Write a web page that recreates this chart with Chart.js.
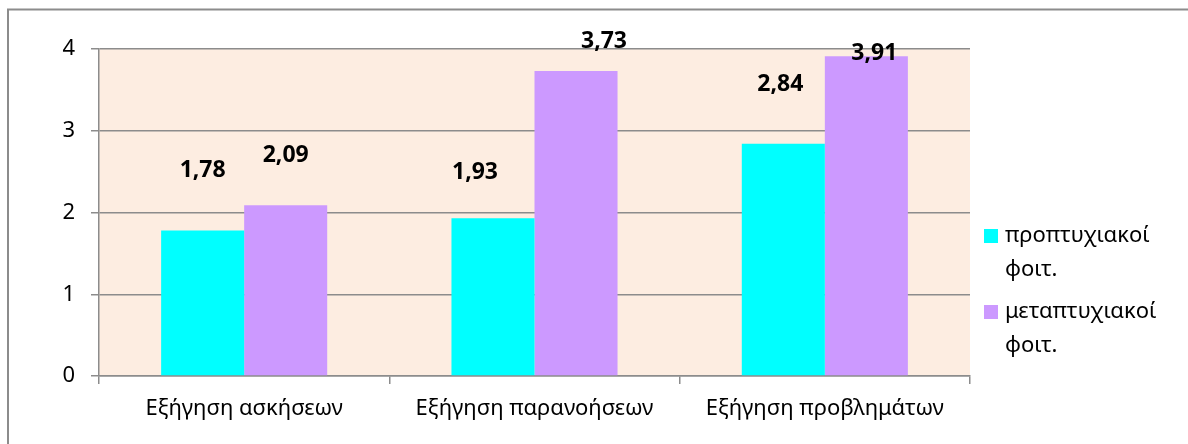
<!DOCTYPE html>
<html>
<head>
<meta charset="utf-8">
<script src="https://cdn.jsdelivr.net/npm/chart.js@4.4.0/dist/chart.umd.min.js"></script>
<style>
  html, body { margin: 0; padding: 0; background: #ffffff; overflow: hidden; }
  canvas { display: block; }
</style>
</head>
<body>
<canvas id="chart" width="1188" height="444"></canvas>
<script>
// Categories, series values and axis ticks
const categories = ['Εξήγηση ασκήσεων', 'Εξήγηση παρανοήσεων', 'Εξήγηση προβλημάτων'];
const undergradValues = [1.78, 1.93, 2.84];
const postgradValues = [2.09, 3.73, 3.91];
const seriesLabels = ['προπτυχιακοί φοιτ.', 'μεταπτυχιακοί φοιτ.'];
const yTickValues = [0, 1, 2, 3, 4];

const FONT = "'Noto Sans', 'Open Sans', sans-serif";
const GRID = '#8c8c8c';

const fmt = v => v.toFixed(2).replace('.', ',');

// Frame, plot background and the wrapped legend on the right
const framePlugin = {
  id: 'frame',
  beforeDraw(chart) {
    const { ctx, chartArea: a } = chart;
    ctx.save();
    ctx.fillStyle = '#fdede1';
    ctx.fillRect(a.left, a.top, a.right - a.left, a.bottom - a.top);
    ctx.strokeStyle = '#8c8c8c';
    ctx.lineWidth = 2;
    ctx.beginPath();
    ctx.moveTo(8, chart.height + 2);
    ctx.lineTo(8, 9.5);
    ctx.lineTo(chart.width + 2, 9.5);
    ctx.stroke();
    ctx.restore();
  },
  afterDraw(chart) {
    const { ctx } = chart;
    ctx.save();
    ctx.font = `22px ${FONT}`;
    ctx.textBaseline = 'middle';
    let y = 236;
    chart.data.datasets.forEach(ds => {
      const lines = ds.label.split(' ');
      ctx.fillStyle = ds.backgroundColor;
      ctx.fillRect(984, y - 7, 14, 14);
      ctx.fillStyle = '#000';
      lines.forEach((ln, i) => ctx.fillText(ln, 1005, y + i * 33.5));
      y += 76;
    });
    ctx.restore();
  }
};

// Value labels above the bars
const valueLabelPlugin = {
  id: 'valueLabels',
  afterDatasetsDraw(chart, args, opts) {
    const { ctx } = chart;
    ctx.save();
    ctx.font = `bold 23px ${FONT}`;
    ctx.textAlign = 'center';
    ctx.textBaseline = 'middle';
    ctx.fillStyle = '#000';
    chart.data.datasets.forEach((ds, di) => {
      const meta = chart.getDatasetMeta(di);
      meta.data.forEach((bar, i) => {
        const [dx, dy] = opts.offsets[di][i];
        ctx.fillText(fmt(ds.data[i]), bar.x + dx, bar.y + dy);
      });
    });
    ctx.restore();
  }
};

new Chart(document.getElementById('chart'), {
  type: 'bar',
  data: {
    labels: categories,
    datasets: [
      { label: seriesLabels[0], data: undergradValues, backgroundColor: '#00ffff' },
      { label: seriesLabels[1], data: postgradValues, backgroundColor: '#cc99ff' }
    ]
  },
  plugins: [framePlugin, valueLabelPlugin],
  options: {
    responsive: false,
    animation: false,
    events: [],
    layout: { padding: { top: 49, right: 218, bottom: 0, left: 0 } },
    datasets: { bar: { categoryPercentage: 0.572, barPercentage: 1.0 } },
    plugins: {
      legend: { display: false },
      tooltip: { enabled: false },
      valueLabels: {
        offsets: [
          [[0, -60], [-18, -46], [-3, -59]],
          [[0, -50], [28, -30], [8, -3]]
        ]
      }
    },
    scales: {
      x: {
        grid: { offset: true, drawOnChartArea: false, drawTicks: true, tickLength: 8, color: GRID, lineWidth: 1.5 },
        border: { color: GRID, width: 1.5 },
        ticks: { color: '#000', font: { family: FONT, size: 22 }, padding: 12, maxRotation: 0 },
        afterFit(scale) { scale.height = 68; }
      },
      y: {
        min: 0,
        max: 4,
        afterBuildTicks(scale) { scale.ticks = yTickValues.map(v => ({ value: v })); },
        grid: { color: GRID, lineWidth: 1.5, tickLength: 8 },
        border: { color: GRID, width: 1.5 },
        ticks: { color: '#000', font: { family: FONT, size: 22 }, padding: 16 },
        afterFit(scale) { scale.width = 99; }
      }
    }
  }
});
</script>
</body>
</html>
